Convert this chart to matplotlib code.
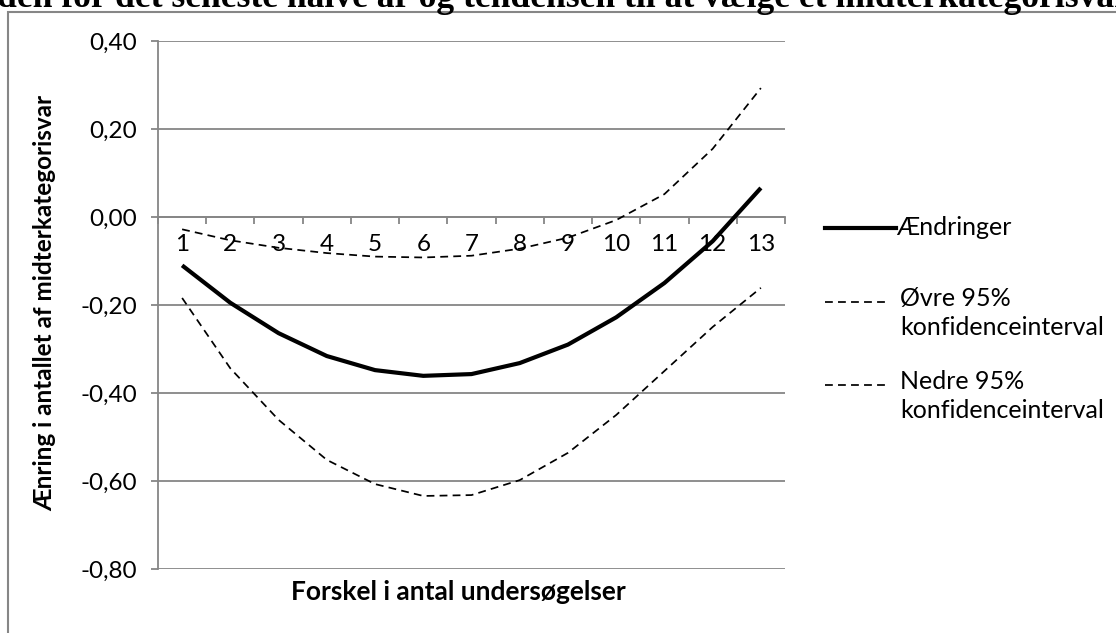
import matplotlib.pyplot as plt
from matplotlib.lines import Line2D
from matplotlib.patches import Rectangle
from matplotlib.ticker import FuncFormatter

categories = list(range(1, 14))
aendringer = [-0.11, -0.195, -0.264, -0.316, -0.348, -0.361, -0.357, -0.332, -0.290, -0.228, -0.150, -0.055, 0.066]
oevre = [-0.028, -0.053, -0.070, -0.082, -0.090, -0.092, -0.088, -0.072, -0.047, -0.007, 0.052, 0.155, 0.293]
nedre = [-0.184, -0.344, -0.461, -0.552, -0.607, -0.634, -0.632, -0.598, -0.536, -0.450, -0.350, -0.250, -0.161]
yticks = [0.4, 0.2, 0.0, -0.2, -0.4, -0.6, -0.8]

title = "den for det seneste halve år og tendensen til at vælge et midterkategorisvar"
ylabel = "Ænring i antallet af midterkategorisvar"
xlabel = "Forskel i antal undersøgelser"
labels = ["Ændringer", "Øvre 95%\nkonfidenceinterval", "Nedre 95%\nkonfidenceinterval"]

plt.rcParams['font.family'] = ['Lato', 'DejaVu Sans']
grey = '#868686'
dash = (0, (4.5, 3))

fig = plt.figure(figsize=(11.16, 6.33), dpi=100)
W, H = 1116, 633

# outer frame and the title, cut off at the top as in the source
fig.patches.append(Rectangle((8 / W, -0.1), 1.2, 1 - 12 / H + 0.1, transform=fig.transFigure,
                             fill=False, edgecolor=grey, lw=1.5))
fig.text(-3 / W, 1 - 7 / H, title, family='Liberation Serif', weight='bold', fontsize=25.6,
         va='baseline', ha='left')

ax = fig.add_axes([158 / W, 1 - 569 / H, 627 / W, 528 / H])
x = categories
ax.plot(x, aendringer, color='black', lw=3, solid_capstyle='butt', zorder=3)
ax.plot(x, oevre, color='black', lw=1.25, linestyle=dash, zorder=3)
ax.plot(x, nedre, color='black', lw=1.25, linestyle=dash, zorder=3)

ax.set_xlim(0.5, 13.5)
ax.set_ylim(-0.8, 0.4)
ax.set_yticks(yticks)
ax.yaxis.set_major_formatter(FuncFormatter(lambda v, p: f"{v:.2f}".replace('.', ',')))
ax.grid(axis='y', color=grey, lw=1.3)
ax.set_axisbelow(True)

for s in ['top', 'right']:
    ax.spines[s].set_visible(False)
ax.spines['left'].set_color(grey)
ax.spines['left'].set_linewidth(1.3)
ax.spines['bottom'].set_position(('data', 0))
ax.spines['bottom'].set_color(grey)
ax.spines['bottom'].set_linewidth(1.3)

ax.set_xticks([c + 0.5 for c in [0] + categories])
ax.set_xticks(categories, minor=True)
ax.set_xticklabels([])
ax.set_xticklabels([str(c) for c in categories], minor=True)
ax.tick_params(axis='x', which='major', length=5, width=1.3, color=grey)
ax.tick_params(axis='x', which='minor', length=0, pad=12, labelsize=17.5)
ax.tick_params(axis='y', length=5, width=1.3, color=grey, pad=10, labelsize=17.5)

fig.text(45 / W, 1 - 303 / H, ylabel, rotation=90, weight='bold', fontsize=17.5,
         ha='center', va='center')
fig.text(458 / W, 1 - 592 / H, xlabel, weight='bold', fontsize=19, ha='center', va='center')

# legend drawn by hand
fig.lines.append(Line2D([825 / W, 896 / W], [1 - 228 / H] * 2, transform=fig.transFigure,
                        color='black', lw=3))
fig.text(896 / W, 1 - 228 / H, labels[0], fontsize=18, va='center', ha='left')
for y, t in [(302, labels[1]), (385, labels[2])]:
    fig.lines.append(Line2D([825 / W, 890 / W], [1 - y / H] * 2, transform=fig.transFigure,
                            color='black', lw=1.25, linestyle=dash))
    fig.text(900 / W, 1 - (y - 15) / H, t, fontsize=18, va='top', ha='left', linespacing=1.3)

fig.savefig('out.png', dpi=100)
